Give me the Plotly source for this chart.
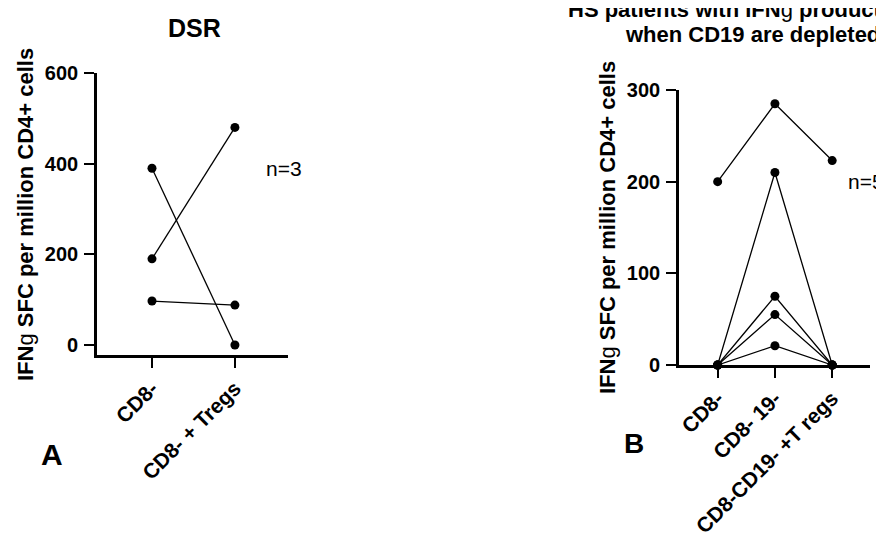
import plotly.graph_objects as go

# ---- data ----
cats_a = ["CD8-", "CD8- + Tregs"]
series_a = [
    [390, 0],
    [190, 480],
    [97, 88],
]
yticks_a = [0, 200, 400, 600]

cats_b = ["CD8-", "CD8- 19-", "CD8-CD19- +T regs"]
series_b = [
    [200, 285, 223],
    [0, 210, 0],
    [0, 75, 0],
    [0, 55, 0],
    [0, 21, 0],
]
yticks_b = [0, 100, 200, 300]

title_a = "DSR"
title_b1 = "<b>HS patients with IFN</b>g<b> production</b>"
title_b2 = "<b>when CD19 are depleted</b>"
ytitle = "<b>IFN</b>g<b> SFC per million CD4+ cells</b>"

W, H = 884, 533
OFF = 8  # page body margin offset
FONT = "Arial, Liberation Sans, Helvetica, sans-serif"

def px(x):
    return (x - OFF) / W

def py(y):
    return 1 - (y - OFF) / H

fig = go.Figure()

for s in series_a:
    fig.add_trace(go.Scatter(
        x=cats_a, y=s, mode="lines+markers", xaxis="x", yaxis="y",
        line=dict(color="black", width=1.3),
        marker=dict(color="black", size=9),
        cliponaxis=False, showlegend=False, hoverinfo="skip"))

for s in series_b:
    fig.add_trace(go.Scatter(
        x=cats_b, y=s, mode="lines+markers", xaxis="x2", yaxis="y2",
        line=dict(color="black", width=1.3),
        marker=dict(color="black", size=9),
        cliponaxis=False, showlegend=False, hoverinfo="skip"))

axis_common = dict(
    showline=True, linecolor="black", linewidth=2.6,
    ticks="outside", ticklen=10, tickwidth=2.4, tickcolor="black",
    showgrid=False, zeroline=False, fixedrange=True, automargin=False,
)

tickfont = dict(family=FONT, size=20, color="black", weight="bold")
xtickfont = dict(family=FONT, size=21, color="black", weight="bold")

fig.update_layout(
    template="none",
    width=W, height=H,
    margin=dict(l=0, r=0, t=0, b=0, pad=0),
    paper_bgcolor="white", plot_bgcolor="white",
    font=dict(family=FONT, color="black"),
    xaxis=dict(domain=[px(97), px(288)], anchor="y", type="category",
               categoryorder="array", categoryarray=cats_a,
               range=[-0.663, 1.64], tickangle=-45,
               tickfont=xtickfont, **axis_common),
    yaxis=dict(domain=[py(355), py(73)], anchor="x",
               range=[-22.06, 600], tickvals=yticks_a,
               tickfont=tickfont, ticklabelstandoff=2, **axis_common),
    xaxis2=dict(domain=[px(679), px(870)], anchor="y2", type="category",
                categoryorder="array", categoryarray=cats_b,
                range=[-0.675, 2.66], tickangle=-45,
                tickfont=xtickfont, **axis_common),
    yaxis2=dict(domain=[py(365), py(90)], anchor="x2",
                range=[0, 300], tickvals=yticks_b,
                tickfont=tickfont, ticklabelstandoff=2, **axis_common),
)

ann = []
def add_text(text, x, y, size, xanchor="center", angle=0, bold=False):
    ann.append(dict(
        text=text, x=px(x), y=py(y), xref="paper", yref="paper",
        xanchor=xanchor, yanchor="middle", showarrow=False,
        textangle=angle,
        font=dict(family=FONT, size=size, color="black",
                  weight="bold" if bold else "normal")))

add_text(title_a, 194, 28, 25, bold=True)
add_text(title_b1, 566, 10, 22, xanchor="left")
add_text(title_b2, 623, 34, 22, xanchor="left")
add_text(ytitle, 25, 215, 22, angle=-90)
add_text(ytitle, 607, 228, 22, angle=-90)
add_text("n=3", 284, 168, 21)
add_text("n=5", 846, 181, 21, xanchor="left")
add_text("A", 52, 454, 30, bold=True)
add_text("B", 634, 443, 28, bold=True)

fig.update_layout(annotations=ann)

fig.write_html("out.html")
